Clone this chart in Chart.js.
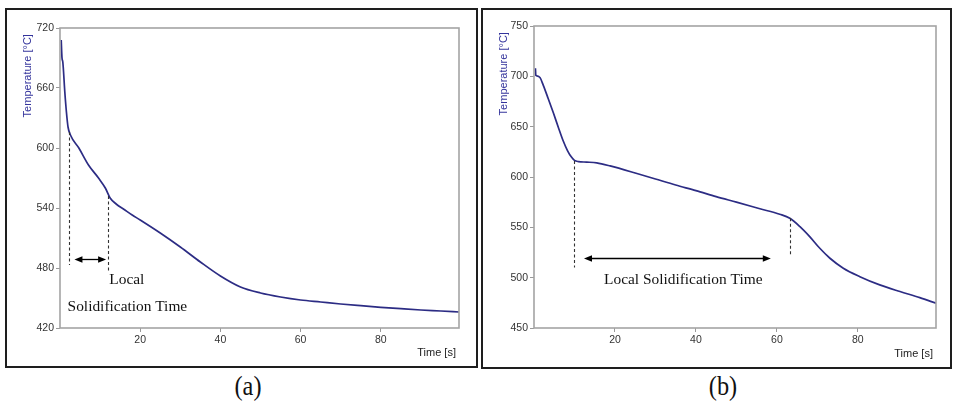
<!DOCTYPE html>
<html>
<head>
<meta charset="utf-8">
<script src="https://cdn.jsdelivr.net/npm/chart.js@4.4.1/dist/chart.umd.min.js"></script>
<style>
  html, body { margin: 0; padding: 0; background: #fff; }
  body { width: 953px; height: 404px; position: relative; overflow: hidden; }
  .panel { position: absolute; border: 2px solid #1e1e1e; box-sizing: border-box; background: #fff; }
  .panel canvas { display: block; }
  .cap { position: absolute; font-family: 'Liberation Serif', 'Times New Roman', serif; font-size: 27px; line-height: 27px; color: #111; transform: translateX(-50%) scaleX(0.9); white-space: nowrap; }
</style>
</head>
<body>
<div class="panel" style="left:5px; top:8px; width:473px; height:360px;"><canvas id="chartA" width="469" height="356"></canvas></div>
<div class="panel" style="left:481px; top:8px; width:471px; height:361px;"><canvas id="chartB" width="467" height="357"></canvas></div>
<div class="cap" style="left:248px; top:373px;">(a)</div>
<div class="cap" style="left:723px; top:373px;">(b)</div>
<script>
// (a) cooling curve
const timeA = [0.3, 0.5, 0.7, 1.2, 1.6, 2.0, 2.6, 4.7, 7.1, 9.6, 11.3, 12.5, 14, 16, 18, 20, 25, 30, 35, 40, 45, 50, 55, 60, 65, 70, 75, 80, 85, 90, 95, 99.5];
const tempA = [708, 690, 686, 656, 636, 621, 613, 600, 583, 570, 560, 550, 544, 538.5, 533, 528, 515, 501, 486, 472, 461, 455, 451, 448, 446, 444, 442.3, 440.7, 439.3, 438, 437, 436];
const xTicksA = [20, 40, 60, 80];
const yTicksA = [420, 480, 540, 600, 660, 720];

// (b) cooling curve
const timeB = [0.35, 0.45, 0.7, 1.5, 2.3, 3.5, 4.8, 6.0, 7.2, 8.3, 9.2, 10.0, 11.0, 13, 15.5, 18.8, 25, 30, 35, 40, 45, 50, 55.8, 60.7, 63.2, 65.7, 68.1, 70.6, 73.1, 76.4, 80.5, 85.4, 90.4, 95.3, 99.3];
const tempB = [708, 701, 700.5, 698.7, 691, 678, 663.5, 649.5, 636, 626, 620, 616.5, 615.3, 614.8, 614, 611, 604, 598, 592, 586.5, 580.5, 575, 568.5, 563, 559, 550.7, 540.8, 529.2, 519.3, 509.4, 501, 492.8, 486.2, 480.2, 474.6];
const xTicksB = [20, 40, 60, 80];
const yTicksB = [450, 500, 550, 600, 650, 700, 750];

// solidification markers (time, temperature)
const dropsA = [{t: 2.36, top: 616, bottom: 483}, {t: 11.95, top: 552, bottom: 477}];
const arrowA = {from: 3.6, to: 11.5, temp: 489};
const labelsA = [{text: 'Local', t: 12.3, temp: 468}, {text: 'Solidification Time', t: 1.9, temp: 441.5}];

const dropsB = [{t: 9.8, top: 616, bottom: 510}, {t: 63.2, top: 559, bottom: 521}];
const arrowB = {from: 12.35, to: 58.5, temp: 519.6};
const labelsB = [{text: 'Local Solidification Time', t: 17.3, temp: 497.8}];

const sans = "'Liberation Sans', Arial, sans-serif";

const frame = {
  id: 'frame',
  afterDatasetsDraw(chart) {
    const {ctx, chartArea: a} = chart;
    ctx.save();
    ctx.strokeStyle = '#a4a4a4';
    ctx.lineWidth = 1.6;
    ctx.strokeRect(a.left, a.top, a.right - a.left, a.bottom - a.top);
    ctx.restore();
  }
};

const annotate = {
  id: 'annotate',
  afterDraw(chart, args, opts) {
    const {ctx, scales: {x, y}} = chart;
    ctx.save();
    ctx.strokeStyle = '#333';
    ctx.lineWidth = 1.1;
    ctx.setLineDash([3, 2.5]);
    opts.drops.forEach(d => {
      const px = Math.round(x.getPixelForValue(d.t)) + 0.5;
      ctx.beginPath();
      ctx.moveTo(px, y.getPixelForValue(d.top));
      ctx.lineTo(px, y.getPixelForValue(d.bottom));
      ctx.stroke();
    });
    ctx.setLineDash([]);

    // double headed arrow
    const x1 = x.getPixelForValue(opts.arrow.from);
    const x2 = x.getPixelForValue(opts.arrow.to);
    const ay = Math.round(y.getPixelForValue(opts.arrow.temp)) + 0.5;
    const hl = 8, hw = 3.2;
    ctx.strokeStyle = '#000';
    ctx.fillStyle = '#000';
    ctx.lineWidth = 1.3;
    ctx.beginPath();
    ctx.moveTo(x1 + hl - 1, ay);
    ctx.lineTo(x2 - hl + 1, ay);
    ctx.stroke();
    ctx.beginPath();
    ctx.moveTo(x1, ay); ctx.lineTo(x1 + hl, ay - hw); ctx.lineTo(x1 + hl, ay + hw); ctx.closePath();
    ctx.fill();
    ctx.beginPath();
    ctx.moveTo(x2, ay); ctx.lineTo(x2 - hl, ay - hw); ctx.lineTo(x2 - hl, ay + hw); ctx.closePath();
    ctx.fill();

    ctx.font = "15.4px 'Liberation Serif', 'Times New Roman', serif";
    ctx.fillStyle = '#111';
    ctx.textAlign = 'left';
    ctx.textBaseline = 'middle';
    opts.labels.forEach(l => {
      ctx.fillText(l.text, x.getPixelForValue(l.t), y.getPixelForValue(l.temp));
    });
    ctx.restore();
  }
};

function makeChart(id, time, temp, xMax, xTicks, yTicks, box, marks) {
  const points = time.map((t, i) => ({x: t, y: temp[i]}));
  return new Chart(document.getElementById(id), {
    type: 'line',
    data: {
      datasets: [{
        data: points,
        borderColor: '#2c2c84',
        borderWidth: 1.7,
        pointRadius: 0,
        fill: false,
        cubicInterpolationMode: 'monotone'
      }]
    },
    options: {
      responsive: false,
      animation: false,
      devicePixelRatio: 1,
      layout: {padding: {top: box.top, right: box.right, left: 0, bottom: 0}},
      plugins: {
        legend: {display: false},
        tooltip: {enabled: false},
        annotate: marks
      },
      scales: {
        x: {
          type: 'linear',
          min: 0,
          max: xMax,
          afterBuildTicks: s => { s.ticks = xTicks.map(v => ({value: v})); },
          afterFit: s => { s.height = box.xHeight; },
          border: {display: false},
          grid: {drawOnChartArea: false, tickLength: 4, color: '#999'},
          ticks: {color: '#333', padding: 2, maxRotation: 0, font: {family: sans, size: 10.5}},
          title: {display: true, text: 'Time [s] ', align: 'end', color: '#222',
                  padding: {top: 0, bottom: 6}, font: {family: sans, size: 11}}
        },
        y: {
          min: yTicks[0],
          max: yTicks[yTicks.length - 1],
          afterBuildTicks: s => { s.ticks = yTicks.map(v => ({value: v})); },
          afterFit: s => { s.width = box.yWidth; },
          border: {display: false},
          grid: {drawOnChartArea: false, tickLength: 4, color: '#999'},
          ticks: {color: '#333', padding: 2, font: {family: sans, size: 10.5}},
          title: {display: true, text: 'Temperature [°C]  ', align: 'end', color: '#34349c',
                  padding: {top: 14, bottom: 0}, font: {family: sans, size: 11}}
        }
      }
    },
    plugins: [frame, annotate]
  });
}

makeChart('chartA', timeA, tempA, 99.5, xTicksA, yTicksA,
  {top: 18, right: 17, yWidth: 53, xHeight: 38},
  {drops: dropsA, arrow: arrowA, labels: labelsA});

makeChart('chartB', timeB, tempB, 99.3, xTicksB, yTicksB,
  {top: 16, right: 14, yWidth: 51, xHeight: 39},
  {drops: dropsB, arrow: arrowB, labels: labelsB});
</script>
</body>
</html>
